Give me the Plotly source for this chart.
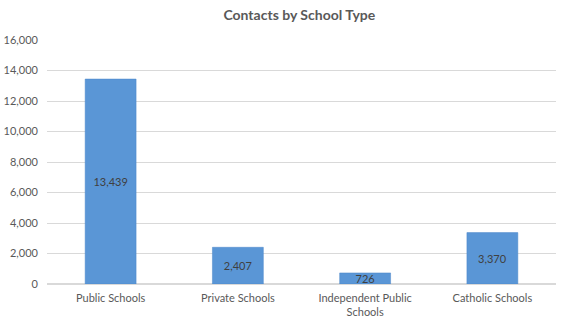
import plotly.graph_objects as go

categories = ["Public Schools", "Private Schools", "Independent Public<br>Schools", "Catholic Schools"]
contacts = [13439, 2407, 726, 3370]
y_ticks = [0, 2000, 4000, 6000, 8000, 10000, 12000, 14000, 16000]

fig = go.Figure(go.Bar(
    x=categories, y=contacts,
    marker=dict(color="#5a96d6", line=dict(color="#4a86c8", width=0.5)),
    text=[f"{v:,}" for v in contacts],
    textposition="inside", insidetextanchor="middle", constraintext="none",
    textfont=dict(family="Lato, Open Sans, sans-serif", size=11, color="#404040"),
    width=0.4,
))

fig.update_layout(
    width=568, height=327,
    margin=dict(l=47, r=12, t=40, b=43),
    paper_bgcolor="white", plot_bgcolor="white",
    title=dict(text="<b>Contacts by School Type</b>", x=0.527, xanchor="center", y=0.953, yanchor="middle",
               font=dict(family="Lato, Open Sans, sans-serif", size=14, color="#595959")),
    font=dict(family="Lato, Open Sans, sans-serif", size=11, color="#595959"),
    showlegend=False,
    bargap=0.6,
)
fig.update_yaxes(range=[0, 16000], tickvals=y_ticks, tickformat=",", gridcolor="#d9d9d9", gridwidth=1,
                 zeroline=True, zerolinecolor="#d9d9d9", showline=False, ticks="", ticklen=0,
                 ticklabelstandoff=8, automargin=False, tickfont=dict(size=11, color="#595959"))
fig.update_xaxes(showline=False, ticks="", ticklabelstandoff=6, automargin=False,
                 tickfont=dict(size=11, color="#595959"))

fig.write_html("out.html")
